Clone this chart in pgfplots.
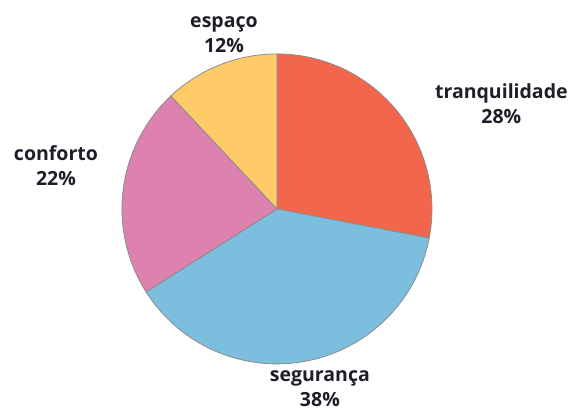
\documentclass[border=0pt]{standalone}
\usepackage{pgfplots}
\pgfplotsset{compat=1.18}
\usepackage{fontspec}
\setmainfont{Open Sans}
\definecolor{cT}{HTML}{F2674B}
\definecolor{cS}{HTML}{7BBEDD}
\definecolor{cC}{HTML}{DD82AE}
\definecolor{cE}{HTML}{FFCB69}
\definecolor{txt}{HTML}{1E1E28}
\tikzset{lbl/.style={font=\fontsize{19.5}{25}\selectfont\bfseries, text=txt, align=center, inner sep=0pt}}
\begin{document}
\begin{tikzpicture}
% shares (percent)
\def\vT{28}\def\vS{38}\def\vC{22}\def\vE{12}
\pgfmathsetmacro\aA{90}
\pgfmathsetmacro\aB{\aA-\vT*3.6}
\pgfmathsetmacro\aC{\aB-\vS*3.6}
\pgfmathsetmacro\aD{\aC-\vC*3.6}
\pgfmathsetmacro\aE{\aD-\vE*3.6}
\begin{axis}[
  x=155pt, y=155pt,
  xmin=-1.787, xmax=1.923, ymin=-1.310, ymax=1.348,
  hide axis, scale only axis, clip=false,
]
\path (rel axis cs:0,0) rectangle (rel axis cs:1,1);
\addplot[fill=cT, draw=gray!90, line width=0.8pt, domain=\aB:\aA, samples=80, variable=\t] ({cos(\t)},{sin(\t)}) -- (axis cs:0,0) -- cycle;
\addplot[fill=cS, draw=gray!90, line width=0.8pt, domain=\aC:\aB, samples=100, variable=\t] ({cos(\t)},{sin(\t)}) -- (axis cs:0,0) -- cycle;
\addplot[fill=cC, draw=gray!90, line width=0.8pt, domain=\aD:\aC, samples=70, variable=\t] ({cos(\t)},{sin(\t)}) -- (axis cs:0,0) -- cycle;
\addplot[fill=cE, draw=gray!90, line width=0.8pt, domain=\aE:\aD, samples=40, variable=\t] ({cos(\t)},{sin(\t)}) -- (axis cs:0,0) -- cycle;
\node[lbl] at (axis cs:1.448,0.677) {tranquilidade\\28\%};
\node[lbl] at (axis cs:0.277,-1.16) {segurança\\38\%};
\node[lbl] at (axis cs:-1.426,0.277) {conforto\\22\%};
\node[lbl] at (axis cs:-0.342,1.123) {espaço\\12\%};
\end{axis}
\end{tikzpicture}
\end{document}
